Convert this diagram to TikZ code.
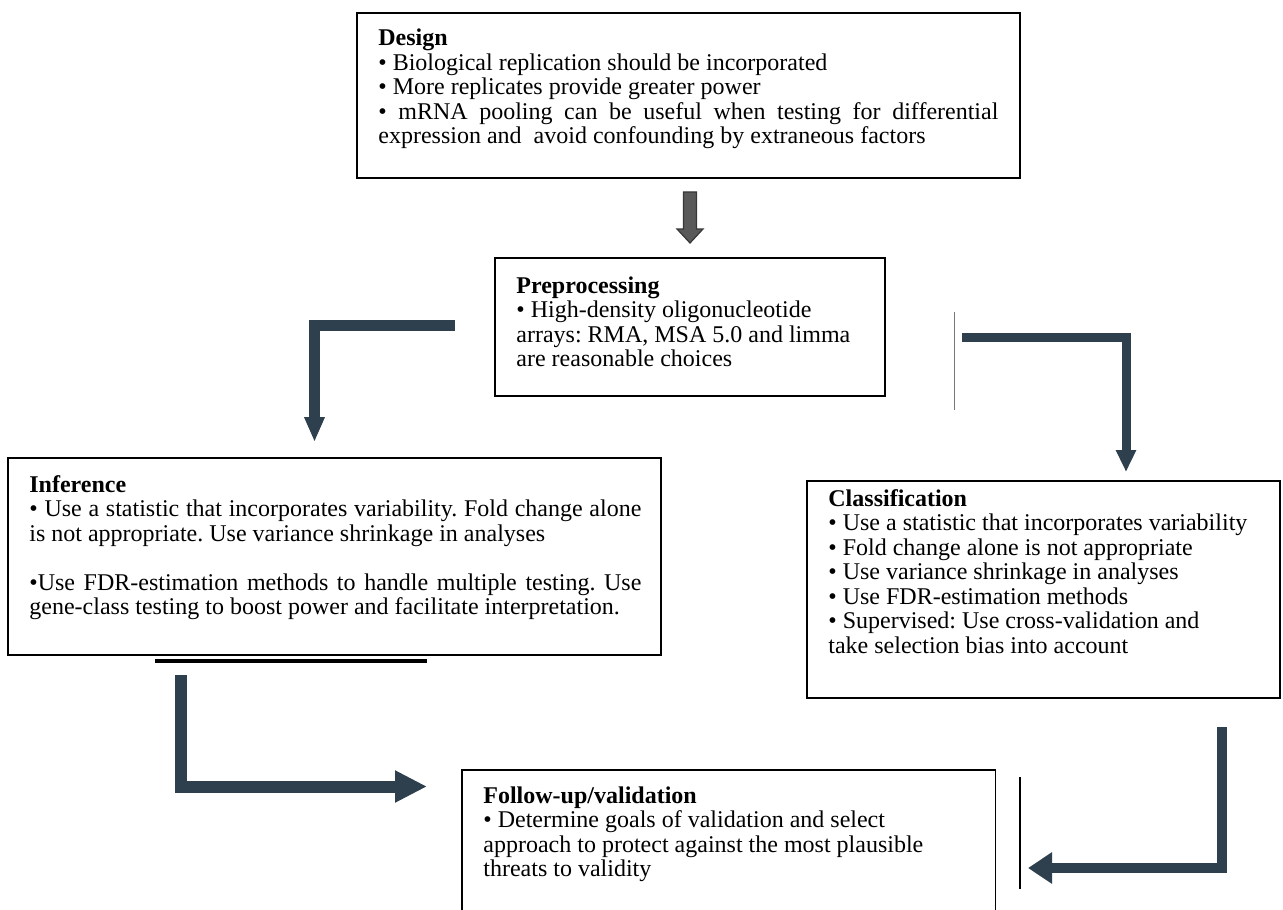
\documentclass[tikz,border=0pt]{standalone}
\usepackage{fontspec}
\setmainfont{Liberation Serif}
\usetikzlibrary{arrows.meta,fit}
\definecolor{flowcol}{RGB}{46,64,77}
\definecolor{blockfill}{RGB}{89,89,89}
\definecolor{blockline}{RGB}{55,55,55}
\definecolor{thingray}{RGB}{120,120,120}
\frenchspacing
\newcommand{\tblock}[2]{\parbox[t]{#1}{\fontsize{12pt}{12.25pt}\selectfont\frenchspacing\lineskiplimit=-20pt\relax\parindent=0pt\relax #2}}
\newcommand{\jline}[1]{\makebox[\linewidth][s]{#1}}
\begin{document}
\begin{tikzpicture}[x=0.5pt,y=-0.5pt,
  box/.style={draw=black,line width=0.9pt,inner sep=0pt},
  txt/.style={inner sep=0pt,anchor=base west},
  flow/.style={draw=flowcol,line width=#1,line join=miter},
  rule/.style={draw=black,line width=#1}
]
\useasboundingbox (0,0) rectangle (1283,909);

% boxes
\node[box,fit={(357,13)(1020,178)}] (design) {};
\node[box,fit={(495,258)(885,396)}] (prep) {};
\node[box,fit={(8,458)(661,655)}] (inf) {};
\node[box,fit={(807,481)(1280,698)}] (cls) {};
\node[inner sep=0pt,fit={(462,770)(995,930)}] (fup) {};
\draw[black,line width=0.9pt] (fup.south west) -- (fup.north west) -- (fup.north east) -- (fup.south east);

% texts
\node[txt] (designtext) at (378,46) {\tblock{310pt}{\textbf{Design}\\
• Biological replication should be incorporated\\
• More replicates provide greater power\\
\jline{• mRNA pooling can be useful when testing for differential}\\
expression and\ \ avoid confounding by extraneous factors}};

\node[txt] (preptext) at (516,293) {\tblock{180pt}{\textbf{Preprocessing}\\
• High-density oligonucleotide\\
arrays: RMA, MSA 5.0 and limma\\
are reasonable choices}};

\node[txt] (inftext) at (29,492) {\tblock{306pt}{\textbf{Inference}\\
\jline{• Use a statistic that incorporates variability. Fold change alone}\\
is not appropriate. Use variance shrinkage in analyses\\
\mbox{}\\
\jline{•Use FDR-estimation methods to handle multiple testing. Use}\\
gene-class testing to boost power and facilitate interpretation.}};

\node[txt] (clstext) at (828,506) {\tblock{225pt}{\textbf{Classification}\\
• Use a statistic that incorporates variability\\
• Fold change alone is not appropriate\\
• Use variance shrinkage in analyses\\
• Use FDR-estimation methods\\
• Supervised: Use cross-validation and\\
take selection bias into account}};

\node[txt] (fuptext) at (483,803) {\tblock{230pt}{\textbf{Follow-up/validation}\\
• Determine goals of validation and select\\
approach to protect against the most plausible\\
threats to validity}};

% gray block arrow Design -> Preprocessing
\draw[draw=blockline,fill=blockfill,line width=0.6pt]
  (683.5,192) -- (696.5,192) -- (696.5,229) -- (703,229) -- (690,243) -- (677,229) -- (683.5,229) -- cycle;

% flow arrows
\coordinate (a1s) at (455,325.5);
\coordinate (a1c) at (314.5,325.5);
\coordinate (a1e) at (314.5,442);
\draw[flow=5.5pt,-{Triangle[width=9.5pt,length=12.5pt]}] (a1s) -- (a1c) -- (a1e);

\coordinate (a2s) at (962,337);
\coordinate (a2c) at (1126,337);
\coordinate (a2e) at (1126,472);
\draw[flow=4.5pt,-{Triangle[width=9.5pt,length=11pt]}] (a2s) -- (a2c) -- (a2e);

\coordinate (a3s) at (180.5,675);
\coordinate (a3c) at (180.5,786.5);
\coordinate (a3e) at (427,786.5);
\draw[flow=6pt,-{Triangle[width=15pt,length=16pt]}] (a3s) -- (a3c) -- (a3e);

\coordinate (a4s) at (1222,727);
\coordinate (a4c) at (1222,868);
\coordinate (a4e) at (1028,868);
\draw[flow=5pt,-{Triangle[width=15pt,length=12pt]}] (a4s) -- (a4c) -- (a4e);

% stray thin lines
\coordinate (t1a) at (954,312);
\coordinate (t1b) at (954,410);
\draw[draw=thingray,line width=0.5pt] (t1a) -- (t1b);
\coordinate (t2a) at (1020,777);
\coordinate (t2b) at (1020,889);
\draw[rule=1pt] (t2a) -- (t2b);
\coordinate (t3a) at (155,661);
\coordinate (t3b) at (427,661);
\draw[rule=1.6pt] (t3a) -- (t3b);
\end{tikzpicture}
\end{document}
